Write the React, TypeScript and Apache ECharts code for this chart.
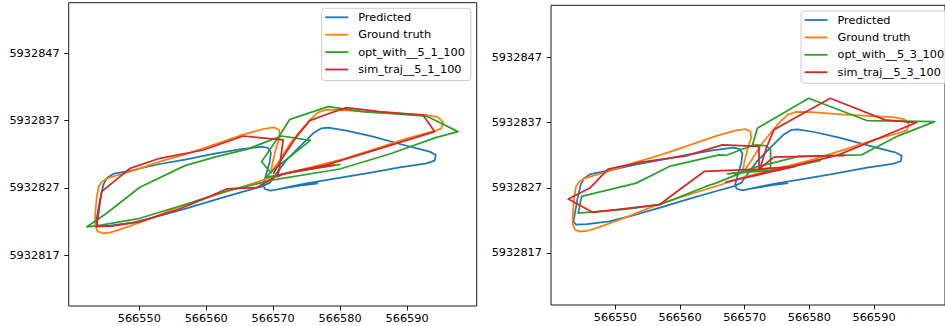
import React, { useEffect, useRef } from "react";
import * as echarts from "echarts";

const xTicks = [566550, 566560, 566570, 566580, 566590];
const yTicks = [5932817, 5932827, 5932837, 5932847];

const leftNames = ["Predicted", "Ground truth", "opt_with__5_1_100", "sim_traj__5_1_100"];
const rightNames = ["Predicted", "Ground truth", "opt_with__5_3_100", "sim_traj__5_3_100"];
const colors = ["#1f77b4", "#ff7f0e", "#2ca02c", "#d62728"];

const predicted = [
  [566576.72, 5932827.69], [566573.98, 5932827.35], [566571.0, 5932826.85], [566569.6, 5932826.6],
  [566568.76, 5932826.85], [566568.51, 5932827.45], [566569.0, 5932829.18], [566569.5, 5932830.91],
  [566569.65, 5932832.25], [566569.25, 5932832.94], [566568.26, 5932833.14], [566565.02, 5932832.74],
  [566561.04, 5932832.05], [566557.06, 5932831.26], [566553.08, 5932830.56], [566549.1, 5932829.67],
  [566546.12, 5932829.08], [566545.12, 5932828.44], [566544.63, 5932827.45], [566544.13, 5932825.22],
  [566543.73, 5932822.99], [566543.53, 5932821.75], [566543.93, 5932821.36], [566545.62, 5932821.41],
  [566549.1, 5932821.85], [566552.59, 5932822.74], [566557.06, 5932823.98], [566561.54, 5932825.32],
  [566565.52, 5932826.46], [566568.26, 5932827.2], [566569.5, 5932827.79], [566570.5, 5932829.18],
  [566571.99, 5932831.16], [566573.98, 5932833.14], [566575.97, 5932835.12], [566577.21, 5932835.86],
  [566578.21, 5932835.96], [566580.95, 5932835.51], [566584.93, 5932834.62], [566588.91, 5932833.53],
  [566593.38, 5932832.4], [566594.28, 5932831.9], [566594.13, 5932831.06], [566592.89, 5932830.66],
  [566588.91, 5932830.07], [566583.93, 5932829.18], [566578.96, 5932828.34], [566574.98, 5932827.69],
  [566571.99, 5932827.1], [566570.25, 5932826.7]
];

const groundTruth = [
  [566569.6, 5932829.18], [566571.0, 5932831.16], [566572.49, 5932833.53], [566573.98, 5932835.37],
  [566575.47, 5932837.1], [566576.72, 5932838.24], [566577.96, 5932838.63], [566580.45, 5932838.58],
  [566584.93, 5932838.24], [566588.91, 5932838.04], [566592.89, 5932837.84], [566594.63, 5932837.54],
  [566595.37, 5932836.75], [566595.12, 5932835.86], [566594.13, 5932835.47], [566589.9, 5932834.33],
  [566584.93, 5932832.69], [566579.95, 5932831.16], [566574.98, 5932829.92], [566570.0, 5932828.68],
  [566567.01, 5932827.69], [566563.03, 5932826.46], [566559.05, 5932825.22], [566556.07, 5932824.23],
  [566551.09, 5932822.25], [566547.61, 5932821.01], [566545.62, 5932820.37], [566544.53, 5932820.27],
  [566543.78, 5932820.56], [566543.38, 5932821.5], [566543.43, 5932823.24], [566543.63, 5932825.47],
  [566543.93, 5932827.2], [566544.43, 5932827.94], [566545.22, 5932828.44], [566546.37, 5932828.78],
  [566549.1, 5932829.57], [566553.08, 5932830.91], [566557.06, 5932832.05], [566562.04, 5932833.73],
  [566565.52, 5932834.92], [566568.51, 5932835.76], [566570.1, 5932836.01], [566570.9, 5932835.61],
  [566571.0, 5932834.62], [566570.5, 5932833.14], [566570.0, 5932831.16], [566569.6, 5932829.18]
];

const optWith511 = [
  [566569.75, 5932829.18], [566568.26, 5932830.91], [566571.0, 5932834.87], [566572.49, 5932837.2],
  [566578.21, 5932839.08], [566583.43, 5932838.34], [566588.41, 5932837.99], [566592.89, 5932837.69],
  [566597.61, 5932835.37], [566594.38, 5932834.52], [566587.41, 5932832.05], [566579.95, 5932829.82],
  [566570.0, 5932828.19], [566563.03, 5932826.55], [566557.06, 5932824.62], [566550.1, 5932822.5],
  [566543.63, 5932821.36], [566542.14, 5932821.21], [566545.12, 5932823.24], [566550.1, 5932827.1],
  [566556.82, 5932830.32], [566561.54, 5932831.65], [566566.02, 5932832.74], [566571.24, 5932834.72],
  [566575.57, 5932834.08], [566570.0, 5932829.67], [566568.91, 5932828.58], [566573.98, 5932829.57],
  [566580.05, 5932830.51]
];

const simTraj511 = [
  [566570.0, 5932829.08], [566571.49, 5932831.65], [566573.48, 5932834.62], [566575.47, 5932837.0],
  [566577.71, 5932837.84], [566580.95, 5932838.93], [566585.92, 5932838.34], [566592.39, 5932837.84],
  [566594.13, 5932835.37], [566584.93, 5932832.54], [566577.96, 5932830.42], [566572.49, 5932829.33],
  [566570.5, 5932828.78], [566567.51, 5932827.05], [566563.03, 5932826.85], [566559.55, 5932825.32],
  [566555.57, 5932823.73], [566550.1, 5932822.0], [566546.12, 5932821.36], [566543.63, 5932821.26],
  [566544.38, 5932826.46], [566548.61, 5932829.92], [566553.08, 5932831.41], [566559.55, 5932832.64],
  [566565.52, 5932834.72], [566571.49, 5932834.13], [566570.9, 5932829.67], [566570.6, 5932828.68],
  [566571.49, 5932829.08], [566579.2, 5932830.42]
];

const optWith531 = [
  [566581.79, 5932831.18], [566575.28, 5932829.76], [566567.33, 5932829.14], [566574.0, 5932830.01],
  [566574.0, 5932832.82], [566573.33, 5932833.43], [566571.95, 5932833.58], [566571.18, 5932833.48],
  [566567.08, 5932831.95], [566566.05, 5932832.05], [566558.36, 5932830.27], [566553.23, 5932827.71],
  [566544.77, 5932825.67], [566544.26, 5932823.12], [566551.69, 5932823.73], [566556.82, 5932824.4],
  [566559.9, 5932825.57], [566564.0, 5932827.2], [566565.54, 5932827.71], [566571.69, 5932830.16],
  [566578.36, 5932831.8], [566588.1, 5932832.05], [566593.74, 5932834.96], [566599.38, 5932837.15],
  [566588.87, 5932837.31], [566579.9, 5932840.72], [566571.95, 5932836.13], [566571.18, 5932833.48]
];

const simTraj531 = [
  [566585.54, 5932831.95], [566574.51, 5932831.69], [566572.21, 5932829.86], [566572.21, 5932833.33],
  [566566.56, 5932833.58], [566560.92, 5932831.9], [566553.74, 5932830.88], [566548.87, 5932829.86],
  [566546.05, 5932826.95], [566542.72, 5932825.27], [566546.56, 5932823.22], [566556.82, 5932824.4],
  [566559.9, 5932826.69], [566563.74, 5932829.5], [566572.21, 5932829.86], [566577.85, 5932830.27],
  [566567.08, 5932827.87], [566576.82, 5932830.16], [566584.51, 5932832.05], [566596.56, 5932837.0],
  [566591.69, 5932837.41], [566583.23, 5932840.72], [566574.51, 5932835.88], [566573.33, 5932833.07],
  [566572.46, 5932830.27]
];

const FONT = "DejaVu Sans";
const FS = 11.3;

function makeAxisX(gridIndex: number, min: number, max: number) {
  return {
    type: "value",
    gridIndex,
    min,
    max,
    axisLine: { show: false },
    axisTick: { show: true, length: 4.5, lineStyle: { color: "#000", width: 0.9 }, customValues: xTicks },
    axisLabel: {
      customValues: xTicks,
      formatter: (v: number) => String(Math.round(v)),
      margin: 7,
      fontFamily: FONT,
      fontSize: FS,
      color: "#000",
    },
    splitLine: { show: false },
  };
}

function makeAxisY(gridIndex: number, min: number, max: number) {
  return {
    type: "value",
    gridIndex,
    min,
    max,
    axisLine: { show: false },
    axisTick: { show: true, length: 4.5, lineStyle: { color: "#000", width: 0.9 }, customValues: yTicks },
    axisLabel: {
      customValues: yTicks,
      formatter: (v: number) => String(Math.round(v)),
      margin: 9,
      fontFamily: FONT,
      fontSize: FS,
      color: "#000",
    },
    splitLine: { show: false },
  };
}

function makeLegend(names: string[], left: number, top: number) {
  return {
    data: names,
    orient: "vertical",
    left,
    top,
    padding: [2, 6, 4, 3.5],
    itemWidth: 23,
    itemHeight: 1.8,
    itemGap: 3.4,
    icon: "rect",
    selectedMode: false,
    borderColor: "#cccccc",
    borderWidth: 1,
    borderRadius: 3,
    backgroundColor: "rgba(255,255,255,0.8)",
    textStyle: { fontFamily: FONT, fontSize: FS, color: "#000", lineHeight: 14, padding: [0, 0, 0, 5] },
  };
}

function line(name: string, data: number[][], color: string, idx: number) {
  return {
    type: "line",
    name,
    xAxisIndex: idx,
    yAxisIndex: idx,
    data,
    showSymbol: false,
    symbol: "none",
    silent: true,
    lineStyle: { width: 1.75, color, join: "round" },
    itemStyle: { color },
  };
}

export default function App() {
  const ref = useRef<HTMLDivElement>(null);
  useEffect(() => {
    if (!ref.current) return;
    const chart = echarts.init(ref.current, undefined, { renderer: "svg" });
    chart.setOption({
      animation: false,
      backgroundColor: "#ffffff",
      grid: [
        { left: 68.7, top: 2.7, width: 408, height: 303.3, show: true, borderColor: "#000", borderWidth: 0.9, backgroundColor: "transparent" },
        { left: 551, top: 5.3, width: 396.2, height: 299.7, show: true, borderColor: "#000", borderWidth: 0.9, backgroundColor: "transparent" },
      ],
      xAxis: [makeAxisX(0, 566539.46, 566600.4), makeAxisX(1, 566540.05, 566600.97)],
      yAxis: [makeAxisY(0, 5932809.47, 5932854.52), makeAxisY(1, 5932809.02, 5932854.98)],
      legend: [makeLegend(leftNames, 321.7, 8.3), makeLegend(rightNames, 801, 11)],
      series: [
        line(leftNames[0], predicted, colors[0], 0),
        line(leftNames[1], groundTruth, colors[1], 0),
        line(leftNames[2], optWith511, colors[2], 0),
        line(leftNames[3], simTraj511, colors[3], 0),
        line(rightNames[0], predicted, colors[0], 1),
        line(rightNames[1], groundTruth, colors[1], 1),
        line(rightNames[2], optWith531, colors[2], 1),
        line(rightNames[3], simTraj531, colors[3], 1),
      ],
    });
    return () => chart.dispose();
  }, []);
  return (
    <div
      ref={ref}
      style={{ position: "fixed", left: 0, top: 0, width: 945, height: 326, background: "#fff" }}
    />
  );
}
